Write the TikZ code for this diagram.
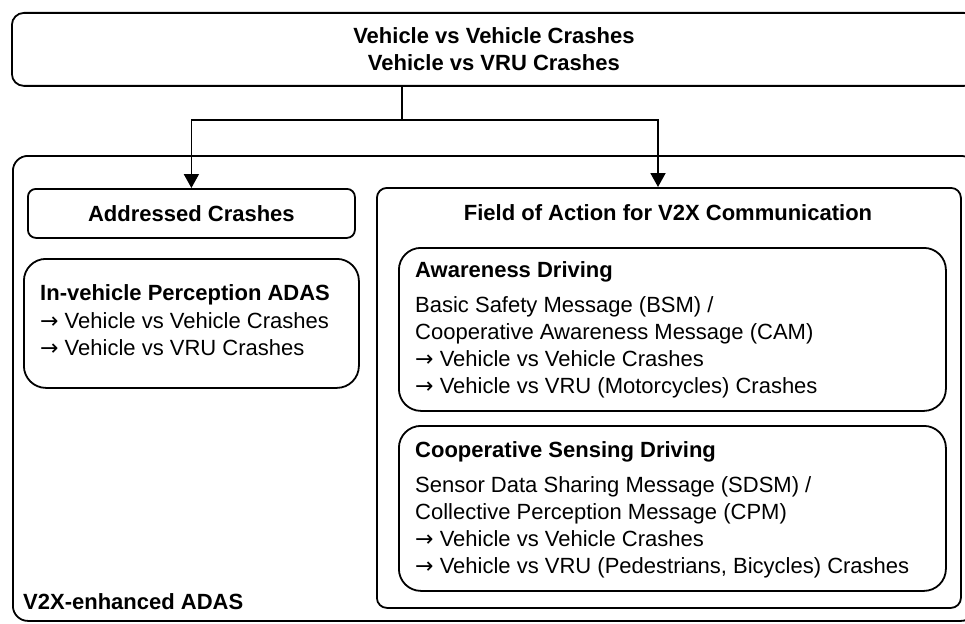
\documentclass[tikz,border=0pt]{standalone}
\usepackage{fontspec}
\setmainfont{Liberation Sans}
\newfontfamily\arrowfont{DejaVu Sans}
\usetikzlibrary{arrows.meta}

\newcommand{\ra}{{\arrowfont →}}

\tikzset{
  box/.style={draw, line width=1.8pt, inner sep=0pt, anchor=north west},
  title/.style={font=\fontsize{22}{27}\selectfont\bfseries, inner sep=0pt},
  body/.style={font=\fontsize{22}{27}\selectfont, inner sep=0pt, anchor=base west},
  conn/.style={line width=1.8pt},
  arr/.style={conn, -{Triangle[length=14pt,width=15pt]}}
}

\begin{document}
\begin{tikzpicture}[x=1pt, y=-1pt]
  \clip (0,0) rectangle (965,623);
  % top box and outer frame
  \node[box, rounded corners=12pt, minimum width=964pt, minimum height=73pt, align=center, title] (crashes) at (11,12) {Vehicle vs Vehicle Crashes\\Vehicle vs VRU Crashes};
  \node[box, rounded corners=15pt, minimum width=963pt, minimum height=465pt] (v2x) at (12,155) {};
  \node[title, anchor=base west] (v2xlabel) at (23,609) {V2X-enhanced ADAS};

  % left column
  \node[box, rounded corners=8pt, minimum width=327pt, minimum height=49pt, title] (addr) at (27,188) {Addressed Crashes};
  \node[box, rounded corners=22pt, minimum width=335pt, minimum height=129pt] (invehicle) at (23,258) {};
  \node[title, anchor=base west] (invtitle) at (40,300) {In-vehicle Perception ADAS};
  \foreach \txt [count=\k] in {Vehicle vs Vehicle Crashes, Vehicle vs VRU Crashes}
    \node[body] (inv\k) at (40, 301+27*\k) {\ra{} \txt};

  % right column
  \node[box, rounded corners=10pt, minimum width=584pt, minimum height=420pt] (field) at (376,187) {};
  \coordinate (fieldin) at (658,187);
  \node[title, anchor=base] (fieldtitle) at (668,220) {Field of Action for V2X Communication};

  \node[box, rounded corners=22pt, minimum width=547pt, minimum height=163pt] (aware) at (398,247) {};
  \node[title, anchor=base west] (awaretitle) at (415,277) {Awareness Driving};
  \foreach \txt [count=\k] in {Basic Safety Message (BSM) /, Cooperative Awareness Message (CAM),
      \ra{} Vehicle vs Vehicle Crashes, \ra{} Vehicle vs VRU (Motorcycles) Crashes}
    \node[body] (aware\k) at (415, 285+27*\k) {\txt};

  \node[box, rounded corners=22pt, minimum width=547pt, minimum height=165pt] (coop) at (398,425) {};
  \node[title, anchor=base west] (cooptitle) at (415,457) {Cooperative Sensing Driving};
  \foreach \txt [count=\k] in {Sensor Data Sharing Message (SDSM) /, Collective Perception Message (CPM),
      \ra{} Vehicle vs Vehicle Crashes, {\ra{} Vehicle vs VRU (Pedestrians, Bicycles) Crashes}}
    \node[body] (coop\k) at (415, 465+27*\k) {\txt};

  % connectors
  \coordinate (split) at (402,120);
  \draw[conn] (crashes.south -| split) -- (split);
  \draw[arr] (split) -| (addr.north);
  \draw[arr] (split) -| (fieldin);
\end{tikzpicture}
\end{document}
